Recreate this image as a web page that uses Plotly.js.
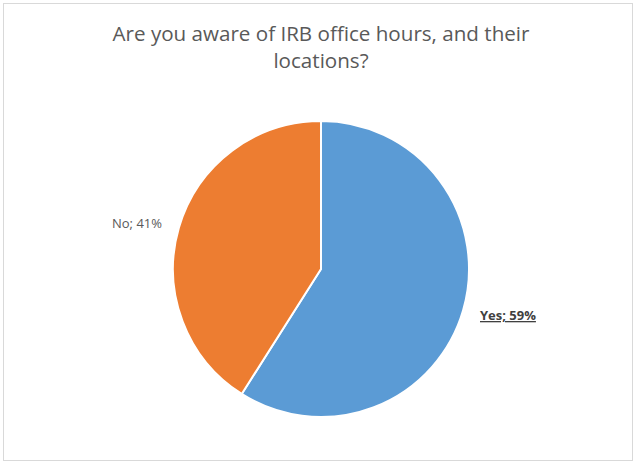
<!DOCTYPE html>
<html>
<head>
<meta charset="utf-8">
<script src="https://cdn.plot.ly/plotly-3.0.1.min.js"></script>
<style>
  html, body { margin: 0; padding: 0; background: #fff; }
  #wrap { position: relative; width: 634px; height: 462px; }
  #chart { width: 634px; height: 462px; }
  #frame { position: absolute; left: 3px; top: 3px; width: 628px; height: 456px;
           border: 1px solid #d9d9d9; pointer-events: none; }
</style>
</head>
<body>
<div id="wrap">
  <div id="chart"></div>
  <div id="frame"></div>
</div>
<script>
const categories = ["Yes", "No"];
const values = [59, 41];
const colors = ["#5B9BD5", "#ED7D31"];
const labelBold = [true, false];
const labelColors = ["#404040", "#595959"];
const titleText = "Are you aware of IRB office hours, and their<br>locations?";

const W = 634, H = 462;
const margin = { t: 121, b: 45, l: 8, r: 0 };
const plotW = W - margin.l - margin.r, plotH = H - margin.t - margin.b;
const radiusPx = Math.min(plotW, plotH) / 2;
const labelGap = 16;

const total = values.reduce((a, b) => a + b, 0);
const annotations = [];
let acc = 0;
values.forEach((v, i) => {
  const mid = (acc + v / 2) / total * 2 * Math.PI; // clockwise from top
  acc += v;
  const rr = radiusPx + labelGap;
  const dx = rr * Math.sin(mid), dy = rr * Math.cos(mid);
  const pct = Math.round(v / total * 100) + "%";
  let txt = categories[i] + "; " + pct;
  if (labelBold[i]) txt = "<b><u>" + txt + "</u></b>";
  annotations.push({
    xref: "paper", yref: "paper",
    x: 0.5 + dx / plotW, y: 0.5 + dy / plotH,
    xanchor: dx >= 0 ? "left" : "right", yanchor: "middle",
    text: txt, showarrow: false,
    font: { family: "Open Sans, Liberation Sans, sans-serif", size: 13, color: labelColors[i] }
  });
});

const trace = {
  type: "pie",
  labels: categories,
  values: values,
  sort: false,
  direction: "clockwise",
  rotation: 0,
  marker: { colors: colors, line: { color: "#ffffff", width: 2 } },
  textinfo: "none",
  hoverinfo: "label+percent",
  showlegend: false
};

const layout = {
  width: W,
  height: H,
  margin: margin,
  paper_bgcolor: "#ffffff",
  title: {
    text: titleText,
    font: { family: "Open Sans, Liberation Sans, sans-serif", size: 20.6, color: "#595959" },
    x: 0.5, xref: "paper", xanchor: "center",
    y: 1 - 41 / H, yref: "container", yanchor: "middle"
  },
  annotations: annotations,
  showlegend: false
};

Plotly.newPlot("chart", [trace], layout, { displayModeBar: false, staticPlot: true });
</script>
</body>
</html>
